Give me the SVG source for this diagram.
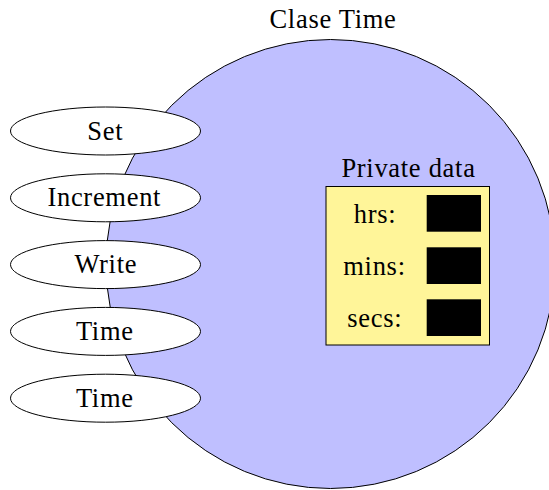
<svg xmlns="http://www.w3.org/2000/svg" width="549" height="490" viewBox="0 0 549 490">
  <style>
    .method { fill: #ffffff; stroke: #000; stroke-width: 1; }
    .slot { fill: #000; }
  </style>
  <rect width="549" height="490" fill="#ffffff"/>
  <g font-family="Liberation Serif" font-size="26.5" text-anchor="middle" letter-spacing="0.7">
  <g id="class-time">
    <circle cx="330.5" cy="264" r="224.5" fill="#bfbfff" stroke="#000" stroke-width="1"/>
    <text x="333" y="28">Clase Time</text>
  </g>
  <g id="private-data">
    <text x="408.5" y="176.5">Private data</text>
    <rect x="326" y="186.5" width="163.5" height="158.5" fill="#fff599" stroke="#000" stroke-width="1"/>
    <text x="375" y="223">hrs:</text>
    <rect class="slot" x="426.7" y="195" width="54.3" height="36.7"/>
    <text x="374.5" y="275">mins:</text>
    <rect class="slot" x="426.7" y="247.3" width="54.3" height="36.7"/>
    <text x="374.8" y="327">secs:</text>
    <rect class="slot" x="426.7" y="299.3" width="54.3" height="36.7"/>
  </g>
  <g id="connectors"></g>
  <g id="method-set">
    <ellipse class="method" cx="105.5" cy="131" rx="95" ry="24"/>
    <text x="105.3" y="139.5">Set</text>
  </g>
  <g id="method-increment">
    <ellipse class="method" cx="105.5" cy="197.8" rx="95" ry="24"/>
    <text x="104.3" y="206.3">Increment</text>
  </g>
  <g id="method-write">
    <ellipse class="method" cx="105.5" cy="264.6" rx="95" ry="24"/>
    <text x="105.8" y="273.1">Write</text>
  </g>
  <g id="method-time-1">
    <ellipse class="method" cx="105.5" cy="331.4" rx="95" ry="24"/>
    <text x="104.8" y="339.9">Time</text>
  </g>
  <g id="method-time-2">
    <ellipse class="method" cx="105.5" cy="398.2" rx="95" ry="24"/>
    <text x="104.8" y="406.7">Time</text>
  </g>
  </g>
</svg>
